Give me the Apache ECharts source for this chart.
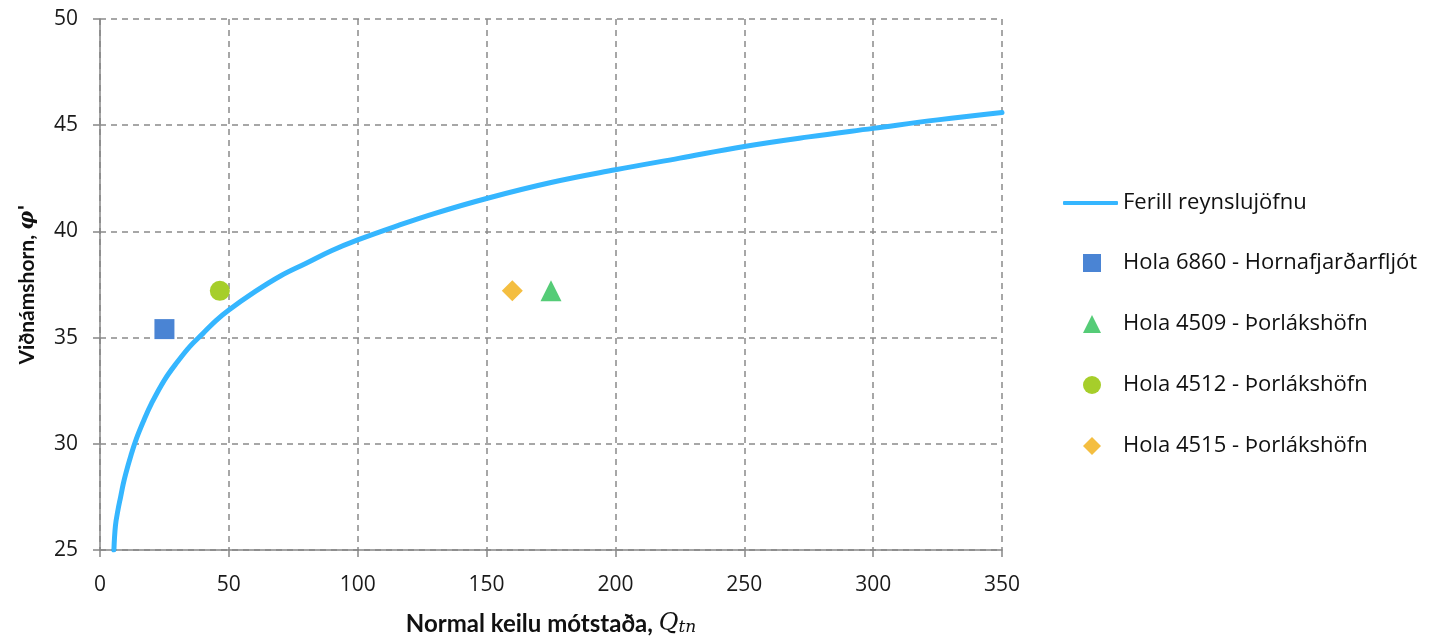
<!DOCTYPE html>
<html>
<head>
<meta charset="utf-8">
<script src="https://cdn.jsdelivr.net/npm/echarts@6/dist/echarts.min.js"></script>
<style>
html,body{margin:0;padding:0;background:#fff;}
#chart{width:1453px;height:641px;}
</style>
</head>
<body>
<div id="chart"></div>
<script>
// Curve "Ferill reynslujöfnu"
var curveQ   = [5.4, 6, 7, 8, 9, 10, 12, 14, 17, 20, 25, 30, 35, 40, 45, 50, 60, 70, 80, 90, 100, 115, 130, 150, 175, 200, 225, 250, 275, 300, 325, 350];
var curvePhi = [25.0, 26.15, 26.9, 27.5, 28.1, 28.6, 29.45, 30.2, 31.1, 31.9, 33.0, 33.85, 34.6, 35.2, 35.8, 36.3, 37.15, 37.9, 38.5, 39.1, 39.6, 40.25, 40.85, 41.55, 42.3, 42.9, 43.45, 44.0, 44.45, 44.85, 45.25, 45.6];
// Borehole points
var hola6860 = [[25, 35.4]];
var hola4509 = [[175, 37.2]];
var hola4512 = [[46.5, 37.2]];
var hola4515 = [[160, 37.2]];
var seriesNames = ['Ferill reynslujöfnu', 'Hola 6860 - Hornafjarðarfljót', 'Hola 4509 - Þorlákshöfn', 'Hola 4512 - Þorlákshöfn', 'Hola 4515 - Þorlákshöfn'];
var xTicks = {min: 0, max: 350, interval: 50};
var yTicks = {min: 25, max: 50, interval: 5};

var FONT = 'Lato';
var LFONT = 'Open Sans';
var curveData = curveQ.map(function (q, i) { return [q, curvePhi[i]]; });

var chart = echarts.init(document.getElementById('chart'), null, {renderer: 'canvas'});
var axisCommon = {
  axisLine: {show: true, lineStyle: {color: '#868686', width: 1.5}},
  axisTick: {show: true, inside: false, length: 7, lineStyle: {color: '#868686', width: 1.5}},
  splitLine: {show: true, lineStyle: {color: '#8a8a8a', width: 1.5, type: [6, 5]}},
  axisLabel: {color: '#1a1a1a', fontSize: 21, fontFamily: LFONT}
};
chart.setOption({
  animation: false,
  backgroundColor: '#ffffff',
  grid: {left: 100, right: 451, top: 19, bottom: 90, containLabel: false},
  legend: [
    {
      orient: 'vertical', left: 1063, top: 192, padding: 0,
      itemWidth: 55, itemHeight: 4,
      icon: 'roundRect',
      textStyle: {fontSize: 22, fontFamily: LFONT, color: '#111'},
      data: [seriesNames[0]]
    },
    {
      orient: 'vertical', left: 1083, top: 252, padding: 0,
      itemWidth: 18, itemHeight: 18, itemGap: 39,
      textStyle: {fontSize: 22, fontFamily: LFONT, color: '#111', padding: [0, 0, 0, 17]},
      data: seriesNames.slice(1)
    }
  ],
  xAxis: Object.assign({}, axisCommon, {
    type: 'value', min: xTicks.min, max: xTicks.max, interval: xTicks.interval,
    axisLabel: Object.assign({}, axisCommon.axisLabel, {margin: 25}),
    name: '{b|Normal keilu mótstaða, }{q|Q}{s|tn}',
    nameLocation: 'middle', nameGap: 62,
    nameTextStyle: {
      rich: {
        b: {fontSize: 24, fontWeight: 'bold', fontFamily: FONT, color: '#111'},
        q: {fontSize: 24, fontStyle: 'italic', fontFamily: 'DejaVu Serif', color: '#111'},
        s: {fontSize: 17, fontStyle: 'italic', fontFamily: 'DejaVu Serif', color: '#111', padding: [7, 0, 0, 0]}
      }
    }
  }),
  yAxis: Object.assign({}, axisCommon, {
    type: 'value', min: yTicks.min, max: yTicks.max, interval: yTicks.interval,
    axisLabel: Object.assign({}, axisCommon.axisLabel, {margin: 22}),
    name: '{b|Viðnámshorn, }{p|φ\'}',
    nameLocation: 'middle', nameGap: 62, nameRotate: 90,
    nameTextStyle: {
      rich: {
        b: {fontSize: 21, fontWeight: 'bold', fontFamily: FONT, color: '#111'},
        p: {fontSize: 21, fontStyle: 'italic', fontWeight: 'bold', fontFamily: 'DejaVu Serif', color: '#111'}
      }
    }
  }),
  series: [
    {
      name: seriesNames[0], type: 'line', data: curveData, smooth: 0.4,
      symbol: 'none', showSymbol: false,
      lineStyle: {color: '#35b6ff', width: 5, cap: 'round', join: 'round'},
      itemStyle: {color: '#35b6ff'}, z: 3
    },
    {name: seriesNames[1], type: 'scatter', data: hola6860, symbol: 'rect', symbolSize: 20, itemStyle: {color: '#4a84d4', opacity: 1}, z: 4},
    {name: seriesNames[2], type: 'scatter', data: hola4509, symbol: 'triangle', symbolSize: 21, itemStyle: {color: '#55cc77', opacity: 1}, z: 4},
    {name: seriesNames[3], type: 'scatter', data: hola4512, symbol: 'circle', symbolSize: 20, itemStyle: {color: '#a6ce2a', opacity: 1}, z: 4},
    {name: seriesNames[4], type: 'scatter', data: hola4515, symbol: 'diamond', symbolSize: 21, itemStyle: {color: '#f4be40', opacity: 1}, z: 4}
  ]
});
</script>
</body>
</html>
